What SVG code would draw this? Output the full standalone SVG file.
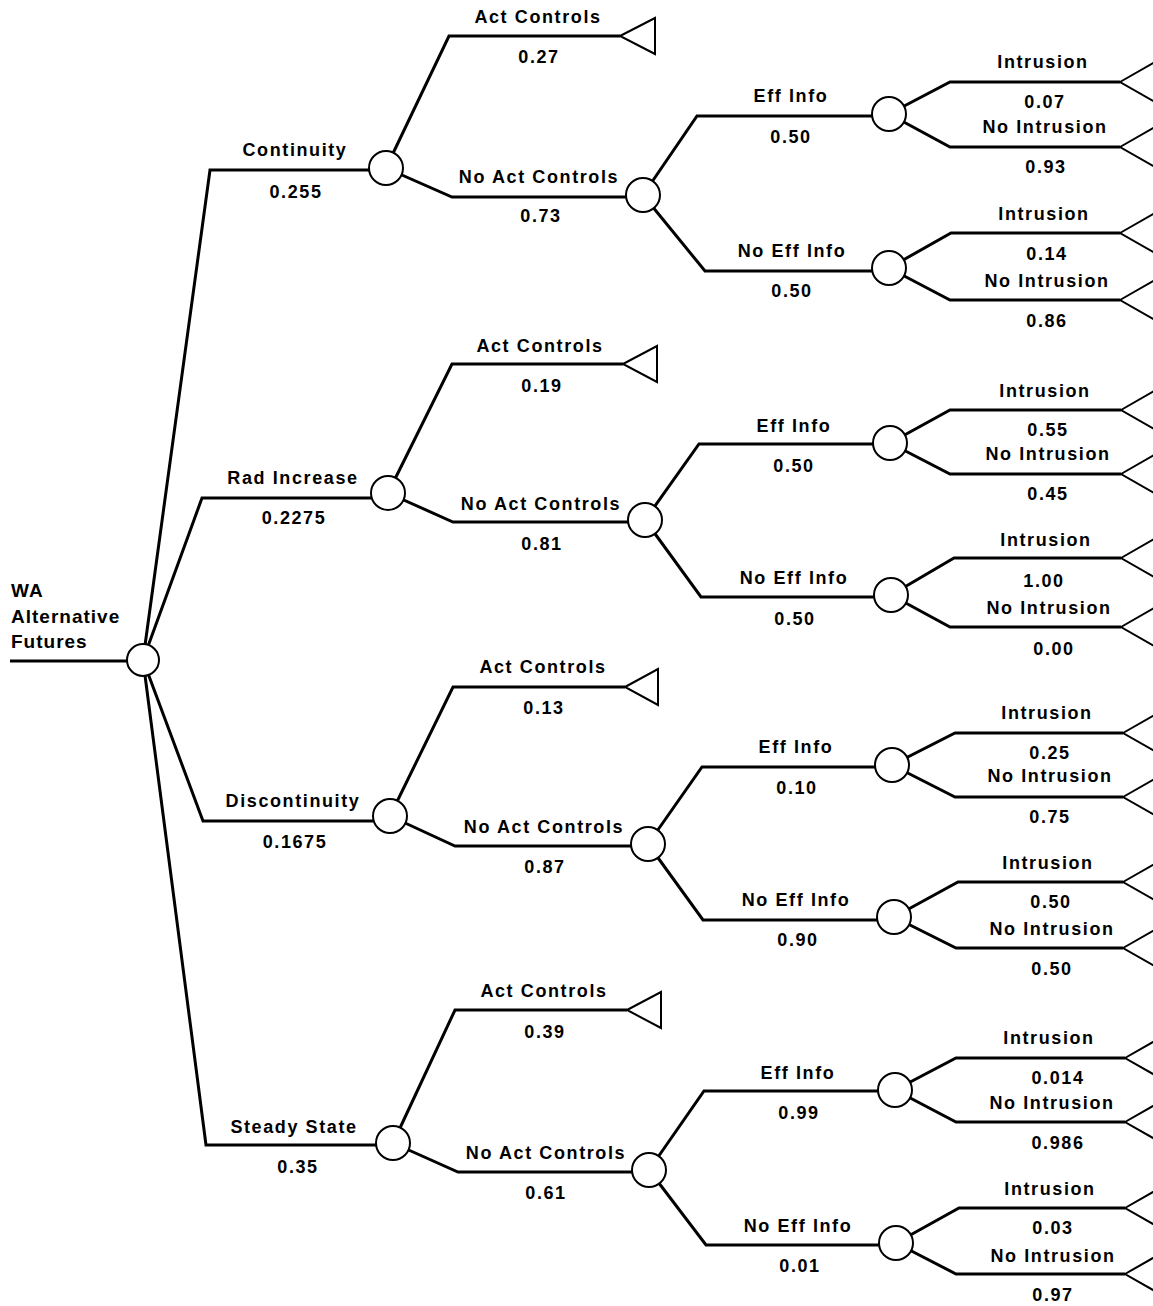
<svg xmlns="http://www.w3.org/2000/svg" width="1153" height="1306" viewBox="0 0 1153 1306">
  <style>
    .br { fill: none; stroke: #000; stroke-width: 3; stroke-linejoin: miter; }
    .chance { fill: #fff; stroke: #000; stroke-width: 2; }
    .term { fill: #fff; stroke: #000; stroke-width: 2; stroke-linejoin: miter; }
    text { font-family: "Liberation Sans", Arial, Helvetica, sans-serif; font-weight: bold; fill: #000; }
    .lbl { font-size: 18px; letter-spacing: 1.6px; text-anchor: middle; }
    .root { font-size: 19px; letter-spacing: 1px; }
  </style>
  <rect width="1153" height="1306" fill="#fff"/>

  <!-- branches -->
  <g id="connectors">
    <path class="br" d="M10,661 H127"/>
    <!-- first level -->
    <path class="br" d="M143,660 L210,170 H369"/>
    <path class="br" d="M143,660 L202,498 H371"/>
    <path class="br" d="M143,660 L203,821 H373"/>
    <path class="br" d="M143,660 L206,1145 H376"/>

    <!-- Continuity -->
    <path class="br" d="M386,168 L449,36 H620"/>
    <path class="br" d="M386,168 L452,197 H626"/>
    <path class="br" d="M643,195 L697,116 H872"/>
    <path class="br" d="M643,195 L705,271 H872"/>
    <path class="br" d="M889,114 L950,82 H1120"/>
    <path class="br" d="M889,114 L950,147 H1120"/>
    <path class="br" d="M889,268 L951,233 H1120"/>
    <path class="br" d="M889,268 L950,300 H1120"/>

    <!-- Rad Increase -->
    <path class="br" d="M388,493 L452,364 H623"/>
    <path class="br" d="M388,493 L453,522 H628"/>
    <path class="br" d="M645,520 L699,444 H873"/>
    <path class="br" d="M645,520 L701,597 H874"/>
    <path class="br" d="M890,443 L950,410 H1121"/>
    <path class="br" d="M890,443 L950,474 H1121"/>
    <path class="br" d="M891,595 L954,558 H1121"/>
    <path class="br" d="M891,595 L950,627 H1121"/>

    <!-- Discontinuity -->
    <path class="br" d="M390,816 L453,687 H625"/>
    <path class="br" d="M390,816 L455,846 H631"/>
    <path class="br" d="M648,844 L702,767 H876"/>
    <path class="br" d="M648,844 L703,920 H877"/>
    <path class="br" d="M892,765 L955,733 H1123"/>
    <path class="br" d="M892,765 L955,797 H1123"/>
    <path class="br" d="M894,917 L958,882 H1123"/>
    <path class="br" d="M894,917 L956,948 H1123"/>

    <!-- Steady State -->
    <path class="br" d="M393,1143 L455,1010 H627"/>
    <path class="br" d="M393,1143 L458,1172 H633"/>
    <path class="br" d="M649,1170 L704,1091 H878"/>
    <path class="br" d="M649,1170 L706,1245 H879"/>
    <path class="br" d="M895,1090 L956,1058 H1125"/>
    <path class="br" d="M895,1090 L956,1122 H1125"/>
    <path class="br" d="M896,1243 L959,1208 H1125"/>
    <path class="br" d="M896,1243 L956,1274 H1125"/>
  </g>

  <!-- branch labels and probabilities -->
  <g id="branch-labels">
    <text class="lbl" x="295" y="156">Continuity</text>
    <text class="lbl" x="296" y="198">0.255</text>
    <text class="lbl" x="538" y="23">Act Controls</text>
    <text class="lbl" x="539" y="63">0.27</text>
    <text class="lbl" x="539" y="183">No Act Controls</text>
    <text class="lbl" x="541" y="222">0.73</text>
    <text class="lbl" x="791" y="102">Eff Info</text>
    <text class="lbl" x="791" y="143">0.50</text>
    <text class="lbl" x="792" y="257">No Eff Info</text>
    <text class="lbl" x="792" y="297">0.50</text>
    <text class="lbl" x="1043" y="68">Intrusion</text>
    <text class="lbl" x="1045" y="108">0.07</text>
    <text class="lbl" x="1045" y="133">No Intrusion</text>
    <text class="lbl" x="1046" y="173">0.93</text>
    <text class="lbl" x="1044" y="220">Intrusion</text>
    <text class="lbl" x="1047" y="260">0.14</text>
    <text class="lbl" x="1047" y="287">No Intrusion</text>
    <text class="lbl" x="1047" y="327">0.86</text>

    <text class="lbl" x="293" y="484">Rad Increase</text>
    <text class="lbl" x="294" y="524">0.2275</text>
    <text class="lbl" x="540" y="352">Act Controls</text>
    <text class="lbl" x="542" y="392">0.19</text>
    <text class="lbl" x="541" y="510">No Act Controls</text>
    <text class="lbl" x="542" y="550">0.81</text>
    <text class="lbl" x="794" y="432">Eff Info</text>
    <text class="lbl" x="794" y="472">0.50</text>
    <text class="lbl" x="794" y="584">No Eff Info</text>
    <text class="lbl" x="795" y="625">0.50</text>
    <text class="lbl" x="1045" y="397">Intrusion</text>
    <text class="lbl" x="1048" y="436">0.55</text>
    <text class="lbl" x="1048" y="460">No Intrusion</text>
    <text class="lbl" x="1048" y="500">0.45</text>
    <text class="lbl" x="1046" y="546">Intrusion</text>
    <text class="lbl" x="1044" y="587">1.00</text>
    <text class="lbl" x="1049" y="614">No Intrusion</text>
    <text class="lbl" x="1054" y="655">0.00</text>

    <text class="lbl" x="293" y="807">Discontinuity</text>
    <text class="lbl" x="295" y="848">0.1675</text>
    <text class="lbl" x="543" y="673">Act Controls</text>
    <text class="lbl" x="544" y="714">0.13</text>
    <text class="lbl" x="544" y="833">No Act Controls</text>
    <text class="lbl" x="545" y="873">0.87</text>
    <text class="lbl" x="796" y="753">Eff Info</text>
    <text class="lbl" x="797" y="794">0.10</text>
    <text class="lbl" x="796" y="906">No Eff Info</text>
    <text class="lbl" x="798" y="946">0.90</text>
    <text class="lbl" x="1047" y="719">Intrusion</text>
    <text class="lbl" x="1050" y="759">0.25</text>
    <text class="lbl" x="1050" y="782">No Intrusion</text>
    <text class="lbl" x="1050" y="823">0.75</text>
    <text class="lbl" x="1048" y="869">Intrusion</text>
    <text class="lbl" x="1051" y="908">0.50</text>
    <text class="lbl" x="1052" y="935">No Intrusion</text>
    <text class="lbl" x="1052" y="975">0.50</text>

    <text class="lbl" x="294" y="1133">Steady State</text>
    <text class="lbl" x="298" y="1173">0.35</text>
    <text class="lbl" x="544" y="997">Act Controls</text>
    <text class="lbl" x="545" y="1038">0.39</text>
    <text class="lbl" x="546" y="1159">No Act Controls</text>
    <text class="lbl" x="546" y="1199">0.61</text>
    <text class="lbl" x="798" y="1079">Eff Info</text>
    <text class="lbl" x="799" y="1119">0.99</text>
    <text class="lbl" x="798" y="1232">No Eff Info</text>
    <text class="lbl" x="800" y="1272">0.01</text>
    <text class="lbl" x="1049" y="1044">Intrusion</text>
    <text class="lbl" x="1058" y="1084">0.014</text>
    <text class="lbl" x="1052" y="1109">No Intrusion</text>
    <text class="lbl" x="1058" y="1149">0.986</text>
    <text class="lbl" x="1050" y="1195">Intrusion</text>
    <text class="lbl" x="1053" y="1234">0.03</text>
    <text class="lbl" x="1053" y="1262">No Intrusion</text>
    <text class="lbl" x="1053" y="1301">0.97</text>
  </g>

  <!-- root decision label -->
  <g id="root-label">
    <text class="root" x="11" y="597">WA</text>
    <text class="root" x="11" y="623">Alternative</text>
    <text class="root" x="11" y="648">Futures</text>
  </g>

  <!-- chance nodes -->
  <g id="node-root"><circle class="chance" cx="143" cy="660" r="16"/></g>

  <g id="node-continuity"><circle class="chance" cx="386" cy="168" r="17"/></g>
  <g id="node-continuity-nac"><circle class="chance" cx="643" cy="195" r="17"/></g>
  <g id="node-continuity-eff"><circle class="chance" cx="889" cy="114" r="17"/></g>
  <g id="node-continuity-noeff"><circle class="chance" cx="889" cy="268" r="17"/></g>

  <g id="node-rad"><circle class="chance" cx="388" cy="493" r="17"/></g>
  <g id="node-rad-nac"><circle class="chance" cx="645" cy="520" r="17"/></g>
  <g id="node-rad-eff"><circle class="chance" cx="890" cy="443" r="17"/></g>
  <g id="node-rad-noeff"><circle class="chance" cx="891" cy="595" r="17"/></g>

  <g id="node-disc"><circle class="chance" cx="390" cy="816" r="17"/></g>
  <g id="node-disc-nac"><circle class="chance" cx="648" cy="844" r="17"/></g>
  <g id="node-disc-eff"><circle class="chance" cx="892" cy="765" r="17"/></g>
  <g id="node-disc-noeff"><circle class="chance" cx="894" cy="917" r="17"/></g>

  <g id="node-steady"><circle class="chance" cx="393" cy="1143" r="17"/></g>
  <g id="node-steady-nac"><circle class="chance" cx="649" cy="1170" r="17"/></g>
  <g id="node-steady-eff"><circle class="chance" cx="895" cy="1090" r="17"/></g>
  <g id="node-steady-noeff"><circle class="chance" cx="896" cy="1243" r="17"/></g>

  <!-- terminal nodes -->
  <g id="end-continuity-ac"><polygon class="term" points="620,36 655,18 655,54"/></g>
  <g id="end-rad-ac"><polygon class="term" points="623,364 657,346 657,382"/></g>
  <g id="end-disc-ac"><polygon class="term" points="625,687 658,669 658,705"/></g>
  <g id="end-steady-ac"><polygon class="term" points="627,1010 661,992 661,1028"/></g>

  <g id="end-c-1"><polygon class="term" points="1120,82 1155,62 1155,102"/></g>
  <g id="end-c-2"><polygon class="term" points="1120,147 1155,127 1155,167"/></g>
  <g id="end-c-3"><polygon class="term" points="1120,233 1155,213 1155,253"/></g>
  <g id="end-c-4"><polygon class="term" points="1120,300 1155,280 1155,320"/></g>

  <g id="end-r-1"><polygon class="term" points="1121,410 1156,390 1156,430"/></g>
  <g id="end-r-2"><polygon class="term" points="1121,474 1156,454 1156,494"/></g>
  <g id="end-r-3"><polygon class="term" points="1121,558 1156,538 1156,578"/></g>
  <g id="end-r-4"><polygon class="term" points="1121,627 1156,607 1156,647"/></g>

  <g id="end-d-1"><polygon class="term" points="1123,733 1158,713 1158,753"/></g>
  <g id="end-d-2"><polygon class="term" points="1123,797 1158,777 1158,817"/></g>
  <g id="end-d-3"><polygon class="term" points="1123,882 1158,862 1158,902"/></g>
  <g id="end-d-4"><polygon class="term" points="1123,948 1158,928 1158,968"/></g>

  <g id="end-s-1"><polygon class="term" points="1125,1058 1160,1038 1160,1078"/></g>
  <g id="end-s-2"><polygon class="term" points="1125,1122 1160,1102 1160,1142"/></g>
  <g id="end-s-3"><polygon class="term" points="1125,1208 1160,1188 1160,1228"/></g>
  <g id="end-s-4"><polygon class="term" points="1125,1274 1160,1254 1160,1294"/></g>
</svg>
